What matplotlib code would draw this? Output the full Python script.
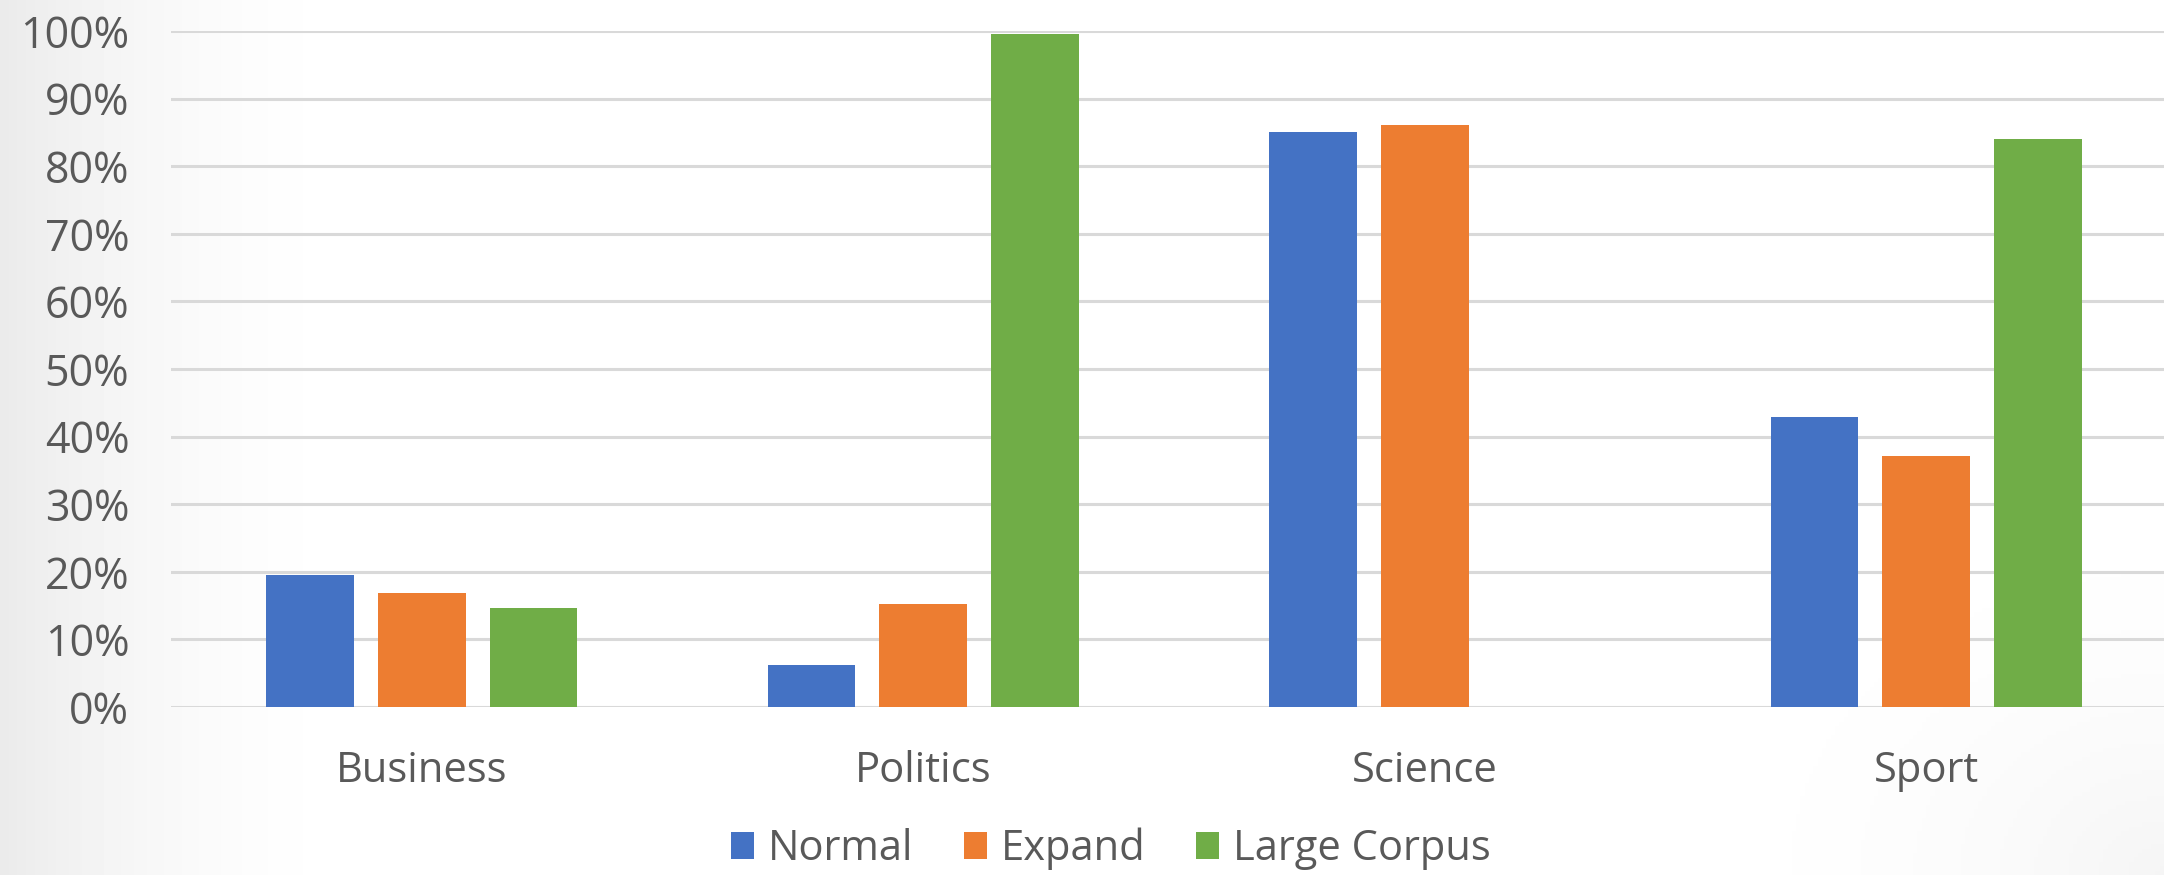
import numpy as np
import matplotlib.pyplot as plt
from matplotlib.patches import Patch

categories = ['Business', 'Politics', 'Science', 'Sport']
normal = [19.5, 6.2, 85.0, 42.9]
expand = [16.8, 15.3, 86.1, 37.1]
large_corpus = [14.6, 99.5, 0.0, 84.0]
series_names = ['Normal', 'Expand', 'Large Corpus']
colors = ['#4472C4', '#ED7D31', '#70AD47']
ytick_labels = ['0%', '10%', '20%', '30%', '40%', '50%', '60%', '70%', '80%', '90%', '100%']

plt.rcParams['font.family'] = ['Open Sans', 'DejaVu Sans']
text_color = '#595959'

W, H = 2164, 875
fig = plt.figure(figsize=(W / 100, H / 100), dpi=100)

# soft slide vignette behind the chart (stronger on the left, faint bottom-right)
bg = fig.add_axes([0, 0, 1, 1], zorder=-10)
yy, xx = np.mgrid[1:0:200j, 0:1:500j]
left = np.clip(1 - xx / 0.18, 0, 1) ** 2
br = np.clip(1 - np.hypot((1 - xx) / 0.25, yy / 0.5), 0, 1) ** 2
shade = 0.08 * left + 0.04 * br
bg.imshow(1 - shade, cmap='gray', vmin=0, vmax=1, aspect='auto', extent=[0, 1, 0, 1])
bg.axis('off')

ax = fig.add_axes([171 / W, (H - 707) / H, (2177 - 171) / W, (707 - 31) / H])
ax.patch.set_alpha(0)

x = np.arange(len(categories))
width = 0.175
step = 0.223
for i, (vals, name, c) in enumerate(zip([normal, expand, large_corpus], series_names, colors)):
    ax.bar(x + (i - 1) * step, vals, width=width, color=c, label=name, zorder=3)

ax.set_xlim(-0.5, len(categories) - 0.5)
ax.set_ylim(0, 100)
ax.set_yticks(np.arange(0, 101, 10))
ax.set_yticklabels(ytick_labels)
ax.set_xticks(x)
ax.set_xticklabels(categories)
ax.grid(axis='y', color='#d9d9d9', linewidth=2.2, zorder=0)
ax.tick_params(axis='both', length=0, colors=text_color)
ax.tick_params(axis='x', pad=31, labelsize=30)
ax.tick_params(axis='y', pad=30, labelsize=31)
for s in ax.spines.values():
    s.set_visible(False)

handles = [Patch(facecolor=c, label=n) for c, n in zip(colors, series_names)]
leg = fig.legend(handles=handles, loc='center', bbox_to_anchor=(1111 / W, (H - 849) / H),
                 ncol=3, frameon=False, fontsize=30, handlelength=0.55, handleheight=0.6,
                 handletextpad=0.35, columnspacing=1.2, labelcolor=text_color)

fig.savefig('out.png', dpi=100)
